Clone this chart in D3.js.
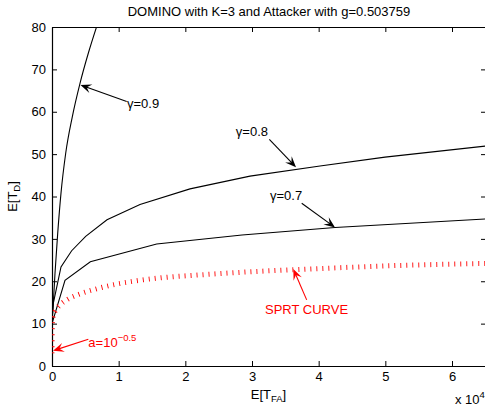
<!DOCTYPE html>
<html><head><meta charset="utf-8">
<script src="https://cdn.jsdelivr.net/npm/d3@7"></script>
<style>body{margin:0;background:#fff}svg{display:block;font-family:"Liberation Sans",Arial,sans-serif}</style>
</head><body>
<script>
// ---- data ----
const title = "DOMINO with K=3 and Attacker with g=0.503759";
const xTicks = [0, 10000, 20000, 30000, 40000, 50000, 60000];
const xTickLabels = ["0","1","2","3","4","5","6"];
const yTicks = [0,10,20,30,40,50,60,70,80];

const g09X = [0, 195, 450, 855, 1350, 2055, 3045, 4200, 5445, 6700];
const g09Y = [10.5, 14.8, 21.9, 31.3, 40.8, 50.2, 58.8, 66.7, 73.8, 80.1];

const g08X = [0, 195, 1350, 2950, 5050, 8250, 13200, 20700, 29700, 40200, 49950, 65000];
const g08Y = [10, 14.8, 23.4, 27.2, 30.6, 34.5, 38.1, 41.8, 44.8, 47.2, 49.3, 51.9];

const g07X = [0, 1950, 5750, 15700, 28500, 42450, 65000];
const g07Y = [10, 20.2, 24.6, 28.8, 30.9, 32.7, 34.7];

const sprtX = [0, 10, 30, 80, 200, 450, 1200, 2200, 4200, 6200, 8700, 12200, 16200, 22200, 28200, 40200, 49650, 65000];
const sprtY = [3.0, 5.5, 8.0, 10.5, 12.0, 12.9, 14.4, 15.6, 17.0, 18.0, 19.0, 20.0, 20.8, 21.5, 22.1, 23.0, 23.6, 24.2];

// ---- layout ----
const W = 485, H = 409;
const m = {left: 52, top: 27, right: 486, bottom: 366};
const x = d3.scaleLinear().domain([0, 65100]).range([m.left, m.right]);
const y = d3.scaleLinear().domain([0, 80]).range([m.bottom, m.top]);

const svg = d3.select("body").append("svg").attr("width", W).attr("height", H);
svg.append("rect").attr("width", W).attr("height", H).attr("fill", "#fff");

svg.append("defs").append("clipPath").attr("id", "clip")
  .append("rect").attr("x", m.left).attr("y", m.top)
  .attr("width", m.right - m.left).attr("height", m.bottom - m.top);

const fs = 13;
// axes
const axB = svg.append("g").attr("transform", `translate(0,${m.bottom})`)
  .call(d3.axisBottom(x).tickValues(xTicks).tickFormat((d,i)=>xTickLabels[i]).tickSizeInner(-5).tickSizeOuter(0).tickPadding(6));
const axT = svg.append("g").attr("transform", `translate(0,${m.top})`)
  .call(d3.axisTop(x).tickValues(xTicks).tickFormat("").tickSizeInner(-5).tickSizeOuter(0));
const axL = svg.append("g").attr("transform", `translate(${m.left},0)`)
  .call(d3.axisLeft(y).tickValues(yTicks).tickSizeInner(-5).tickSizeOuter(0).tickPadding(6));
const axR = svg.append("g").attr("transform", `translate(${m.right},0)`)
  .call(d3.axisRight(y).tickValues(yTicks).tickFormat("").tickSizeInner(-5).tickSizeOuter(0));
[axB, axT, axL, axR].forEach(a => {
  a.selectAll("path").attr("stroke", "#000").attr("stroke-width", 1.2);
  a.selectAll("line").attr("stroke", "#000").attr("stroke-width", 1);
  a.selectAll("text").attr("fill", "#000").attr("font-size", fs).attr("font-family", '"Liberation Sans",Arial,sans-serif');
});

// curves
const line = d3.line().x(d => x(d[0])).y(d => y(d[1]));
const smooth = d3.line().x(d => x(d[0])).y(d => y(d[1])).curve(d3.curveMonotoneX);
const plot = svg.append("g").attr("clip-path", "url(#clip)");
plot.append("path").datum(g09X.map((v,i)=>[v, g09Y[i]]))
  .attr("d", smooth).attr("fill", "none").attr("stroke", "#000").attr("stroke-width", 1.1);
[[g08X, g08Y], [g07X, g07Y]].forEach(([xs, ys]) => {
  plot.append("path").datum(xs.map((v,i)=>[v, ys[i]]))
    .attr("d", line).attr("fill", "none").attr("stroke", "#000").attr("stroke-width", 1.1);
});
plot.append("path").datum(sprtX.map((v,i)=>[v, sprtY[i]]))
  .attr("d", smooth).attr("fill", "none")
  .attr("stroke", "#ff0000").attr("stroke-width", 5).attr("stroke-dasharray", "0.9 5.1");

// arrows
function arrow(x0, y0, x1, y1, color) {
  const X0 = x(x0), Y0 = y(y0), X1 = x(x1), Y1 = y(y1);
  const dx = X1 - X0, dy = Y1 - Y0, len = Math.hypot(dx, dy);
  const ux = dx/len, uy = dy/len, nx = -uy, ny = ux;
  const L = 11, Wd = 4.5;
  svg.append("line").attr("x1", X0).attr("y1", Y0).attr("x2", X1 - ux*6).attr("y2", Y1 - uy*6)
    .attr("stroke", color).attr("stroke-width", 1.1);
  const p = [[X1, Y1], [X1 - L*ux + Wd*nx, Y1 - L*uy + Wd*ny], [X1 - 0.6*L*ux, Y1 - 0.6*L*uy], [X1 - L*ux - Wd*nx, Y1 - L*uy - Wd*ny]];
  svg.append("path").attr("d", "M" + p.map(q => q.join(",")).join("L") + "Z").attr("fill", color);
}
function label(xv, yv, parts, color, anchor) {
  const t = svg.append("text").attr("x", x(xv)).attr("y", y(yv)).attr("fill", color)
    .attr("font-size", fs).attr("dominant-baseline", "central").attr("text-anchor", anchor || "start");
  parts.forEach(p => {
    const s = t.append("tspan").text(p.t);
    if (p.sup) s.attr("font-size", 9.5).attr("dy", -5);
  });
  return t;
}
arrow(11205, 62.4, 4275, 66.3, "#000");
label(11250, 62.0, [{t:"γ=0.9"}], "#000");
arrow(32600, 53.5, 36600, 46.9, "#000");
label(32400, 55.5, [{t:"γ=0.8"}], "#000", "end");
arrow(37455, 38.4, 42450, 32.7, "#000");
label(32700, 40.4, [{t:"γ=0.7"}], "#000");
arrow(38200, 15.6, 36200, 22.9, "#ff0000");
label(31950, 13.4, [{t:"SPRT CURVE"}], "#ff0000");
arrow(5450, 6.3, 150, 3.6, "#ff0000");
label(5450, 5.7, [{t:"a=10"}, {t:"−0.5", sup:true}], "#ff0000");

// title & axis labels
svg.append("text").attr("x", (m.left + m.right)/2).attr("y", 16).attr("text-anchor", "middle")
  .attr("font-size", fs).attr("fill", "#000").text(title);
const xl = svg.append("text").attr("x", 268.5).attr("y", 399).attr("text-anchor", "middle").attr("font-size", fs).attr("fill", "#000");
xl.append("tspan").text("E[T");
xl.append("tspan").text("FA").attr("font-size", 9.5).attr("dy", 3);
xl.append("tspan").text("]").attr("dy", -3);
const yl = svg.append("text").attr("transform", `translate(17,${(m.top+m.bottom)/2}) rotate(-90)`).attr("text-anchor", "middle").attr("font-size", fs).attr("fill", "#000");
yl.append("tspan").text("E[T");
yl.append("tspan").text("D").attr("font-size", 9.5).attr("dy", 3);
yl.append("tspan").text("]").attr("dy", -3);
const ex = svg.append("text").attr("x", 455).attr("y", 404).attr("font-size", fs).attr("fill", "#000");
ex.append("tspan").text("x 10");
ex.append("tspan").text("4").attr("font-size", 9.5).attr("dy", -6);
</script>
</body></html>
